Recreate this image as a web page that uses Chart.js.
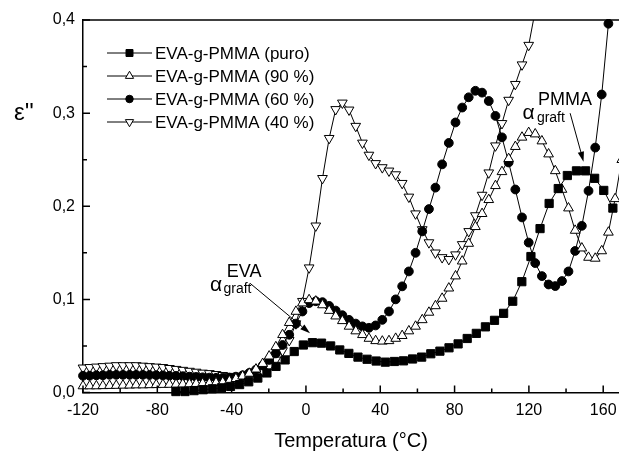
<!DOCTYPE html>
<html>
<head>
<meta charset="utf-8">
<title>EVA-g-PMMA ε''</title>
<script src="https://cdn.jsdelivr.net/npm/chart.js@4/dist/chart.umd.min.js"></script>
<style>
  html, body { margin: 0; padding: 0; background: #fff; }
  #wrap { width: 619px; height: 457px; }
</style>
</head>
<body>
<div id="wrap"><canvas id="chart" width="619" height="457"></canvas></div>
<script>
// ─── Data ───
// shared temperature grid for the 90 / 60 / 40 % samples (°C)
const temps = [
  -120, -116.4, -112.8, -109.3, -105.7, -102.1, -98.5, -94.9, -91.4, -87.8,
  -84.2, -80.6, -77, -73.5, -69.9, -66.3, -62.7, -59.1, -55.6, -52,
  -48.4, -44.8, -41.2, -37.7, -34.1, -30.5, -26.9, -23.3, -19.8, -16.2,
  -12.6, -9, -5.4, -1.9, 1.7, 5.3, 8.9, 12.5, 16, 19.6,
  23.2, 26.8, 30.4, 33.9, 37.5, 41.1, 44.7, 48.3, 51.8, 55.4,
  59, 62.6, 66.2, 69.7, 73.3, 76.9, 80.5, 84.1, 87.6, 91.2,
  94.8, 98.4, 102, 105.5, 109.1, 112.7, 116.3, 119.9, 123.4, 127,
  130.6, 134.2, 137.8, 141.3, 144.9, 148.5, 152.1, 155.7, 159.2, 162.8,
  166.4, 170
];

const puroTemps = [
  -70, -65.1, -60.2, -55.3, -50.4, -45.5, -40.6, -35.7, -30.8, -25.9,
  -21, -16.1, -11.2, -6.3, -1.4, 3.5, 8.4, 13.3, 18.2, 23.1,
  28, 32.9, 37.8, 42.7, 47.6, 52.5, 57.4, 62.3, 67.2, 72.1,
  77, 81.9, 86.8, 91.7, 96.6, 101.5, 106.4, 111.3, 116.2, 121.1,
  126, 130.9, 135.8, 140.7, 145.6, 150.5, 155.4, 160.3, 165.2
];

const puroValues = [
  0.001, 0.001, 0.002, 0.003, 0.004, 0.005, 0.0065, 0.0085, 0.0115, 0.0155,
  0.021, 0.028, 0.035, 0.044, 0.051, 0.0535, 0.053, 0.05, 0.0457, 0.042,
  0.038, 0.0357, 0.0338, 0.0326, 0.0333, 0.034, 0.036, 0.038, 0.0416, 0.0444,
  0.048, 0.0522, 0.058, 0.0635, 0.0705, 0.0775, 0.085, 0.098, 0.119, 0.146,
  0.176, 0.203, 0.219, 0.233, 0.238, 0.238, 0.23, 0.217, 0.198
];

const values90 = [
  0.007, 0.007, 0.007, 0.0072, 0.0074, 0.0075, 0.0077, 0.0078, 0.008, 0.008,
  0.0082, 0.0083, 0.0085, 0.0086, 0.0088, 0.009, 0.0092, 0.0095, 0.0098, 0.01,
  0.0105, 0.011, 0.0125, 0.0148, 0.0175, 0.0205, 0.025, 0.031, 0.039, 0.049,
  0.062, 0.075, 0.087, 0.096, 0.0995, 0.098, 0.094, 0.088, 0.082, 0.077,
  0.071, 0.066, 0.062, 0.058, 0.0555, 0.055, 0.0555, 0.058, 0.061, 0.066,
  0.071, 0.078, 0.086, 0.093, 0.101, 0.112, 0.125, 0.141, 0.16, 0.178,
  0.192, 0.207, 0.222, 0.237, 0.251, 0.264, 0.274, 0.279, 0.2775, 0.27,
  0.256, 0.238, 0.218, 0.198, 0.174, 0.155, 0.145, 0.144, 0.152, 0.172,
  0.208, 0.25
];

const values60 = [
  0.018, 0.018, 0.0185, 0.0185, 0.019, 0.019, 0.019, 0.019, 0.019, 0.019,
  0.0188, 0.0186, 0.0184, 0.018, 0.0178, 0.0175, 0.017, 0.0167, 0.0163, 0.016,
  0.0158, 0.0157, 0.016, 0.017, 0.0185, 0.021, 0.0245, 0.029, 0.035, 0.042,
  0.051, 0.062, 0.074, 0.087, 0.096, 0.098, 0.097, 0.093, 0.088, 0.083,
  0.078, 0.074, 0.071, 0.0695, 0.072, 0.078, 0.087, 0.1, 0.114, 0.13,
  0.15, 0.173, 0.197, 0.22, 0.245, 0.268, 0.29, 0.306, 0.317, 0.324,
  0.322, 0.313, 0.297, 0.274, 0.247, 0.218, 0.188, 0.161, 0.139, 0.125,
  0.116, 0.1143, 0.1197, 0.13, 0.152, 0.179, 0.2165, 0.263, 0.32, 0.396,
  0.48
];

const values40 = [
  0.0265, 0.027, 0.0275, 0.028, 0.0285, 0.029, 0.029, 0.029, 0.029, 0.0285,
  0.028, 0.0275, 0.027, 0.026, 0.025, 0.024, 0.023, 0.022, 0.021, 0.0205,
  0.0195, 0.0185, 0.0175, 0.017, 0.0165, 0.017, 0.019, 0.0225, 0.028, 0.035,
  0.045, 0.056, 0.074, 0.098, 0.134, 0.179, 0.23, 0.273, 0.304, 0.311,
  0.3035, 0.286, 0.268, 0.255, 0.246, 0.2416, 0.238, 0.234, 0.2247, 0.21,
  0.192, 0.175, 0.161, 0.15, 0.145, 0.143, 0.148, 0.159, 0.173, 0.19,
  0.212, 0.236, 0.265, 0.289, 0.314, 0.331, 0.352, 0.373, 0.41
];

const seriesLabels = [
  'EVA-g-PMMA (puro)',
  'EVA-g-PMMA (90 %)',
  'EVA-g-PMMA (60 %)',
  'EVA-g-PMMA (40 %)',
];

const xTicks = { min: -120, max: 168.5, step: 40 };
const yTicks = { min: 0, max: 0.4, step: 0.1 };

// ─── Styles ───
const FONT = "'Liberation Sans', Arial, Helvetica, sans-serif";
const markers = [
  { shape: 'rect', r: 5.8, fill: '#000', rotation: 0 },
  { shape: 'triangle', r: 5.6, fill: '#fff', rotation: 0 },
  { shape: 'circle', r: 4.4, fill: '#000', rotation: 0 },
  { shape: 'triangle', r: 5.6, fill: '#fff', rotation: 180 },
];

// annotation texts / arrows, in data units
const notes = [
  { text: 'EVA', x: -42.6, y: 0.1244, size: 18 },
  { text: 'α', x: -51.6, y: 0.109, size: 21 },
  { text: 'graft', x: -44.4, y: 0.1066, size: 14 },
  { text: 'PMMA', x: 124.9, y: 0.3088, size: 18 },
  { text: 'α', x: 116.6, y: 0.2938, size: 21 },
  { text: 'graft', x: 124.3, y: 0.2909, size: 14 },
];
const arrows = [
  { from: [-30.1, 0.1173], to: [2.2, 0.0636] },
  { from: [142.2, 0.2999], to: [149.4, 0.2479] },
];

function toPoints(xs, ys) {
  return ys.map((v, i) => ({ x: xs[i], y: v }));
}

function drawMarker(ctx, m, x, y, scale) {
  const r = m.r * (scale || 1);
  ctx.beginPath();
  if (m.shape === 'rect') {
    const s = r * Math.SQRT1_2;
    ctx.rect(x - s, y - s, 2 * s, 2 * s);
  } else if (m.shape === 'circle') {
    ctx.arc(x, y, r, 0, Math.PI * 2);
  } else {
    let a = m.rotation * Math.PI / 180;
    ctx.moveTo(x + Math.sin(a) * r, y - Math.cos(a) * r);
    a += Math.PI * 2 / 3;
    ctx.lineTo(x + Math.sin(a) * r, y - Math.cos(a) * r);
    a += Math.PI * 2 / 3;
    ctx.lineTo(x + Math.sin(a) * r, y - Math.cos(a) * r);
    ctx.closePath();
  }
  ctx.fillStyle = m.fill;
  ctx.fill();
  ctx.stroke();
}

// ─── Frame, inward ticks, legend, labels ───
const decorations = {
  id: 'decorations',
  afterDraw(chart) {
    const { ctx, chartArea: a, scales: { x, y } } = chart;
    ctx.save();
    ctx.strokeStyle = '#000';
    ctx.fillStyle = '#000';

    // top border
    ctx.lineWidth = 1.5;
    ctx.beginPath();
    ctx.moveTo(a.left, a.top);
    ctx.lineTo(a.right, a.top);
    ctx.stroke();

    // inward major + minor ticks
    ctx.beginPath();
    x.ticks.forEach(t => {
      const px = x.getPixelForValue(t.value);
      ctx.moveTo(px, a.bottom); ctx.lineTo(px, a.bottom - 7);
      const mid = t.value + xTicks.step / 2;
      if (mid < xTicks.max) {
        const pm = x.getPixelForValue(mid);
        ctx.moveTo(pm, a.bottom); ctx.lineTo(pm, a.bottom - 4);
      }
    });
    y.ticks.forEach(t => {
      const py = y.getPixelForValue(t.value);
      ctx.moveTo(a.left, py); ctx.lineTo(a.left + 7, py);
      const mid = t.value + yTicks.step / 2;
      if (mid < yTicks.max) {
        const pm = y.getPixelForValue(mid);
        ctx.moveTo(a.left, pm); ctx.lineTo(a.left + 4, pm);
      }
    });
    ctx.stroke();

    // y-axis symbol, level with the 0,3 tick
    ctx.font = `24px ${FONT}`;
    ctx.textAlign = 'center';
    ctx.textBaseline = 'middle';
    ctx.fillText("ε''", 24, y.getPixelForValue(0.3));

    // legend: line - marker - line, then text
    ctx.lineWidth = 1;
    ctx.font = `17px ${FONT}`;
    ctx.textAlign = 'left';
    seriesLabels.forEach((label, i) => {
      const ly = a.top + 33 + i * 23;
      ctx.beginPath();
      ctx.moveTo(a.left + 24, ly);
      ctx.lineTo(a.left + 69, ly);
      ctx.stroke();
      drawMarker(ctx, markers[i], a.left + 46.5, ly, 0.85);
      ctx.fillStyle = '#000';
      ctx.textBaseline = 'middle';
      ctx.fillText(label, a.left + 72, ly + 1);
    });

    // annotations
    ctx.textBaseline = 'alphabetic';
    notes.forEach(n => {
      ctx.font = `${n.size}px ${FONT}`;
      ctx.fillText(n.text, x.getPixelForValue(n.x), y.getPixelForValue(n.y));
    });
    arrows.forEach(ar => {
      const x1 = x.getPixelForValue(ar.from[0]), y1 = y.getPixelForValue(ar.from[1]);
      const x2 = x.getPixelForValue(ar.to[0]), y2 = y.getPixelForValue(ar.to[1]);
      const ang = Math.atan2(y2 - y1, x2 - x1);
      const len = 10, half = 3.2;
      const bx = x2 - Math.cos(ang) * len, by = y2 - Math.sin(ang) * len;
      ctx.beginPath();
      ctx.moveTo(x1, y1);
      ctx.lineTo(bx, by);
      ctx.stroke();
      ctx.beginPath();
      ctx.moveTo(x2, y2);
      ctx.lineTo(bx + Math.sin(ang) * half, by - Math.cos(ang) * half);
      ctx.lineTo(bx - Math.sin(ang) * half, by + Math.cos(ang) * half);
      ctx.closePath();
      ctx.fill();
    });
    ctx.restore();
  },
};

function dataset(i, xs, ys, clip) {
  const m = markers[i];
  return {
    label: seriesLabels[i],
    data: toPoints(xs, ys),
    borderColor: '#000',
    borderWidth: 1,
    tension: 0,
    fill: false,
    pointStyle: m.shape,
    pointRotation: m.rotation,
    pointRadius: m.r,
    pointHoverRadius: m.r,
    pointBackgroundColor: m.fill,
    pointBorderColor: '#000',
    pointBorderWidth: 1,
    clip: clip,
  };
}

new Chart(document.getElementById('chart'), {
  type: 'line',
  data: {
    datasets: [
      dataset(0, puroTemps, puroValues, { left: false, top: false, right: false, bottom: false }),
      dataset(1, temps, values90, { left: false, top: 0, right: false, bottom: false }),
      dataset(2, temps, values60, { left: false, top: 1, right: false, bottom: false }),
      dataset(3, temps, values40, { left: false, top: 0, right: false, bottom: false }),
    ],
  },
  options: {
    responsive: false,
    animation: false,
    devicePixelRatio: 1,
    layout: { autoPadding: false, padding: { top: 20, right: 0, bottom: 0, left: 0 } },
    plugins: {
      legend: { display: false },
      tooltip: { enabled: false },
    },
    scales: {
      x: {
        type: 'linear',
        min: xTicks.min,
        max: xTicks.max,
        afterFit: s => {
          s.height = 64.5;
          s.paddingLeft = 0;
          s.paddingRight = 0;
        },
        ticks: {
          stepSize: xTicks.step,
          includeBounds: false,
          color: '#000',
          font: { family: FONT, size: 16 },
          padding: 8,
          maxRotation: 0,
        },
        grid: { display: false, drawTicks: false },
        border: { display: true, color: '#000', width: 1.5 },
        title: {
          display: true,
          text: 'Temperatura (°C)',
          color: '#000',
          font: { family: FONT, size: 20 },
          padding: { top: 0, bottom: 4 },
        },
      },
      y: {
        type: 'linear',
        min: yTicks.min,
        max: yTicks.max,
        afterFit: s => {
          s.width = 83;
          s.paddingTop = 0;
          s.paddingBottom = 0;
        },
        ticks: {
          stepSize: yTicks.step,
          color: '#000',
          font: { family: FONT, size: 16 },
          padding: 8,
          callback: v => v.toFixed(1).replace('.', ','),
        },
        grid: { display: false, drawTicks: false },
        border: { display: true, color: '#000', width: 1.5 },
      },
    },
  },
  plugins: [decorations],
});
</script>
</body>
</html>
